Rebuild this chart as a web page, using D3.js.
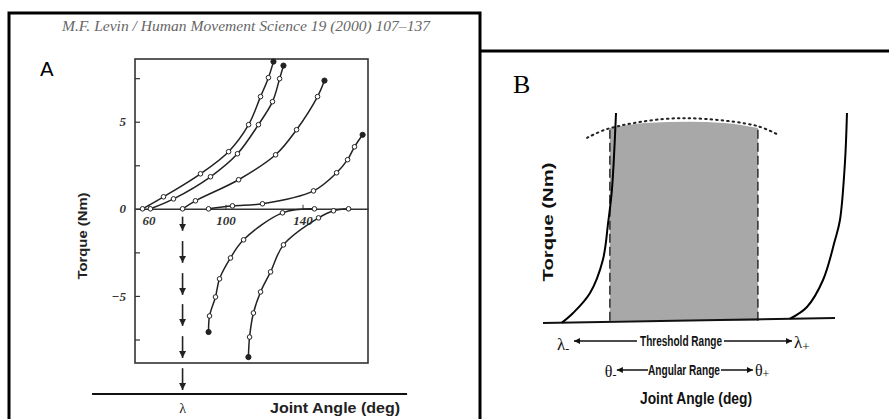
<!DOCTYPE html>
<html>
<head>
<meta charset="utf-8">
<script src="https://cdn.jsdelivr.net/npm/d3@7"></script>
<style>
  body { margin: 0; background: #fff; }
  svg { display: block; }
</style>
</head>
<body>
<svg width="889" height="419"></svg>
<script>
// ---- panel A : torque-angle curves (deg, Nm) ----
const flexor1 = [[56.9, 0], [67.8, 0.69], [87.0, 2.01], [101.6, 3.28], [112, 4.83], [118.2, 6.44], [122.3, 7.53], [124.9, 8.45]]
const flexor2 = [[61, 0], [73, 0.57], [92.2, 1.84], [106.2, 3.16], [117.1, 4.83], [124.4, 6.15], [128.1, 7.47], [130.1, 8.22]]
const flexor3 = [[77.7, 0], [84.4, 0.46], [106.8, 1.67], [126, 3.1], [136.9, 4.54], [147.8, 6.44], [151.4, 7.36]]
const flexor4 = [[91.2, 0], [103.6, 0.17], [119.2, 0.29], [145.7, 1.03], [157.7, 2.07], [163.4, 2.82], [167, 3.56], [171.2, 4.25]]
const extensor1 = [[91.2, -7.07], [91.7, -6.15], [94.8, -5.06], [96.9, -4.02], [102.6, -2.82], [109.4, -1.78], [129.6, -0.23], [146.2, 0]]
const extensor2 = [[111.9, -8.51], [112.5, -7.36], [114.5, -5.98], [118.2, -4.77], [123.4, -3.62], [130.1, -2.07], [148.3, -0.52], [156.1, -0.11], [163.9, 0]]

const yTicksA = [-7.5, -5, -2.5, 0, 2.5, 5, 7.5]
const yLabelsA = [5, 0, -5]
const xLabelsA = [60, 100, 140]
const lambdaA = 77.7
const lambdaArrowEnds = [-1.26, -3.1, -4.94, -6.72, -8.56, -10.4]

// ---- panel B : schematic (arbitrary units 0-100) ----
const baselineB = [[0, -0.5], [100, 1.9]]
const leftCurve = [[6.5, -0.3], [10.3, 4.3], [16.1, 13.9], [20.5, 29.7], [22.3, 47.4], [23.6, 63.2], [25, 100]]
const rightCurve = [[84.6, 1.6], [90.4, 7.2], [95.9, 20.1], [100, 39.2], [101.7, 48.8], [103.4, 76.1], [104.1, 100]]
const envelope = [[15.1, 88.1], [21.9, 92.3], [41.1, 97.1], [56.2, 97.1], [73.3, 93.8], [80.1, 89.9]]
const shadeTop = [[22.9, 92.8], [35, 95.2], [50, 95.8], [62, 95.2], [73.6, 92.8]]
const angularRange = [22.9, 73.6]
const thresholdRange = [6.5, 84.6]

const svg = d3.select('svg')
const ink = '#222'

const defs = svg.append('defs')
defs.append('marker')
    .attr('id', 'headA')
    .attr('viewBox', '0 0 10 10')
    .attr('refX', 10).attr('refY', 5)
    .attr('markerWidth', 7).attr('markerHeight', 8)
    .attr('markerUnits', 'userSpaceOnUse')
    .attr('orient', 'auto')
  .append('path').attr('d', 'M0,0L10,5L0,10z').attr('fill', ink)
defs.append('marker')
    .attr('id', 'headB')
    .attr('viewBox', '0 0 10 10')
    .attr('refX', 10).attr('refY', 5)
    .attr('markerWidth', 8).attr('markerHeight', 6)
    .attr('markerUnits', 'userSpaceOnUse')
    .attr('orient', 'auto-start-reverse')
  .append('path').attr('d', 'M0,0L10,5L0,10z').attr('fill', '#111')

// frames
svg.append('path').attr('d', 'M9,419V13H480V419').attr('fill', 'none').attr('stroke', '#000').attr('stroke-width', 3)
svg.append('path').attr('d', 'M480,51H889').attr('fill', 'none').attr('stroke', '#000').attr('stroke-width', 3)

// ================= panel A =================
const xA = d3.scaleLinear().domain([53, 174]).range([135, 368])
const yA = d3.scaleLinear().domain([-8.85, 8.6]).range([363, 59])

svg.append('text')
    .attr('x', 62).attr('y', 31)
    .attr('textLength', 368).attr('lengthAdjust', 'spacingAndGlyphs')
    .attr('font-family', 'Liberation Serif').attr('font-style', 'italic')
    .attr('font-size', 15).attr('fill', '#666')
    .text('M.F. Levin / Human Movement Science 19 (2000) 107\u2013137')

svg.append('text')
    .attr('x', 40).attr('y', 76)
    .attr('font-family', 'DejaVu Sans').attr('font-size', 20).attr('fill', '#000')
    .text('A')

svg.append('rect')
    .attr('x', xA(53)).attr('y', yA(8.6))
    .attr('width', xA(174) - xA(53)).attr('height', yA(-8.85) - yA(8.6))
    .attr('fill', 'none').attr('stroke', '#333').attr('stroke-width', 1.6)

// y ticks (inside) and labels
svg.append('g')
    .attr('transform', `translate(${xA(53)},0)`)
    .call(d3.axisRight(yA).tickValues(yTicksA).tickSize(5).tickFormat(''))
    .call(g => g.select('.domain').remove())
    .call(g => g.selectAll('line').attr('stroke', '#333').attr('stroke-width', 1.2))

svg.append('g')
    .attr('transform', `translate(${xA(53)},0)`)
    .call(d3.axisLeft(yA).tickValues(yLabelsA).tickSize(0).tickPadding(9).tickFormat(d => d < 0 ? '\u2212' + (-d) : d))
    .call(g => g.select('.domain').remove())
    .call(g => g.selectAll('text')
        .attr('font-family', 'Liberation Serif').attr('font-style', 'italic').attr('font-weight', 'bold')
        .attr('font-size', 13).attr('fill', '#333'))

// zero line as x axis
svg.append('g')
    .attr('transform', `translate(0,${yA(0)})`)
    .call(d3.axisBottom(xA).tickValues(xLabelsA).tickSizeInner(-4).tickSizeOuter(0).tickPadding(7))
    .call(g => g.select('.domain').attr('stroke', '#333').attr('stroke-width', 1.6))
    .call(g => g.selectAll('line').attr('stroke', '#333'))
    .call(g => g.selectAll('text')
        .attr('font-family', 'Liberation Serif').attr('font-style', 'italic').attr('font-weight', 'bold')
        .attr('font-size', 13).attr('fill', '#333'))

const lineA = d3.line().x(d => xA(d[0])).y(d => yA(d[1])).curve(d3.curveCatmullRom.alpha(0.5))

const curvesA = [
  { pts: flexor1, end: 'last' },
  { pts: flexor2, end: 'last' },
  { pts: flexor3, end: 'last' },
  { pts: flexor4, end: 'last' },
  { pts: extensor1, end: 'first' },
  { pts: extensor2, end: 'first' }
]

const cg = svg.append('g')
cg.selectAll('path.curve')
  .data(curvesA)
  .join('path')
    .attr('class', 'curve')
    .attr('d', d => lineA(d.pts))
    .attr('fill', 'none').attr('stroke', ink).attr('stroke-width', 1.5)

curvesA.forEach(c => {
  const n = c.pts.length
  cg.append('g').selectAll('circle')
    .data(c.pts.map((p, i) => ({ p, filled: (c.end === 'last' ? i === n - 1 : i === 0) })))
    .join('circle')
      .attr('cx', d => xA(d.p[0])).attr('cy', d => yA(d.p[1]))
      .attr('r', d => d.filled ? 2.6 : 2.3)
      .attr('fill', d => d.filled ? ink : '#fff')
      .attr('stroke', ink).attr('stroke-width', 1)
})

// lambda arrows
svg.append('g').selectAll('line')
  .data(lambdaArrowEnds)
  .join('line')
    .attr('x1', xA(lambdaA)).attr('x2', xA(lambdaA))
    .attr('y1', d => yA(Math.min(d + 1.25, -0.45)))
    .attr('y2', d => yA(d))
    .attr('stroke', ink).attr('stroke-width', 1.6)
    .attr('marker-end', 'url(#headA)')

// lower angle axis
svg.append('line')
    .attr('x1', xA(30.7)).attr('x2', xA(194.3))
    .attr('y1', yA(-10.63)).attr('y2', yA(-10.63))
    .attr('stroke', '#111').attr('stroke-width', 2)

svg.append('text')
    .attr('x', xA(lambdaA)).attr('y', 413)
    .attr('text-anchor', 'middle')
    .attr('font-family', 'Liberation Serif').attr('font-size', 14).attr('fill', '#222')
    .text('\u03bb')

svg.append('text')
    .attr('x', 335).attr('y', 413)
    .attr('text-anchor', 'middle')
    .attr('textLength', 130).attr('lengthAdjust', 'spacingAndGlyphs')
    .attr('font-family', 'Liberation Sans').attr('font-weight', 'bold')
    .attr('font-size', 14).attr('fill', '#222')
    .text('Joint Angle (deg)')

svg.append('text')
    .attr('transform', 'translate(87,236) rotate(-90)')
    .attr('text-anchor', 'middle')
    .attr('textLength', 87).attr('lengthAdjust', 'spacingAndGlyphs')
    .attr('font-family', 'Liberation Sans').attr('font-weight', 'bold')
    .attr('font-size', 13).attr('fill', '#222')
    .text('Torque (Nm)')

// ================= panel B =================
const xB = d3.scaleLinear().domain([0, 100]).range([543, 835])
const yB = d3.scaleLinear().domain([0, 100]).range([322, 113])

svg.append('text')
    .attr('x', 513).attr('y', 93)
    .attr('font-family', 'Liberation Serif').attr('font-size', 26).attr('fill', '#000')
    .text('B')

// shaded angular range
const areaB = d3.area()
    .x(d => xB(d[0])).y0(yB(0.6)).y1(d => yB(d[1]))
    .curve(d3.curveMonotoneX)
svg.append('path')
    .attr('d', areaB(shadeTop))
    .attr('fill', '#a8a8a8')

// dashed range bounds
svg.append('g').selectAll('line')
  .data(angularRange)
  .join('line')
    .attr('x1', d => xB(d)).attr('x2', d => xB(d))
    .attr('y1', yB(0.6)).attr('y2', yB(92.5))
    .attr('stroke', '#222').attr('stroke-width', 1.4)
    .attr('stroke-dasharray', '9,4')

const lineB = d3.line().x(d => xB(d[0])).y(d => yB(d[1])).curve(d3.curveCatmullRom.alpha(0.5))

svg.append('path')
    .attr('d', lineB(envelope))
    .attr('fill', 'none').attr('stroke', '#222').attr('stroke-width', 2)
    .attr('stroke-dasharray', '1.5,4').attr('stroke-linecap', 'round')

svg.append('path')
    .attr('d', d3.line().x(d => xB(d[0])).y(d => yB(d[1]))(baselineB))
    .attr('fill', 'none').attr('stroke', '#111').attr('stroke-width', 2)

svg.append('g').selectAll('path')
  .data([leftCurve, rightCurve])
  .join('path')
    .attr('d', d => lineB(d))
    .attr('fill', 'none').attr('stroke', '#000').attr('stroke-width', 2)

// range annotations
const lblFont = g => g.attr('font-family', 'Liberation Sans').attr('font-weight', 'bold').attr('fill', '#111')

const lamLo = xB(thresholdRange[0]), lamHi = xB(thresholdRange[1])
const thLo = xB(angularRange[0]), thHi = xB(angularRange[1])

svg.append('text').attr('x', lamLo - 5).attr('y', 350)
    .attr('font-family', 'Liberation Serif').attr('font-size', 17).attr('fill', '#111')
    .call(t => { t.append('tspan').text('\u03bb'); t.append('tspan').attr('font-size', 12).attr('dy', 3).text('-') })
svg.append('line').attr('x1', lamLo + 12).attr('x2', 637).attr('y1', 341).attr('y2', 341)
    .attr('stroke', '#111').attr('stroke-width', 1.5).attr('marker-start', 'url(#headB)')
svg.append('text').attr('x', 681).attr('y', 346).attr('text-anchor', 'middle')
    .attr('textLength', 82).attr('lengthAdjust', 'spacingAndGlyphs').attr('font-size', 14)
    .call(lblFont).text('Threshold Range')
svg.append('line').attr('x1', 724).attr('x2', lamHi + 2).attr('y1', 341).attr('y2', 341)
    .attr('stroke', '#111').attr('stroke-width', 1.5).attr('marker-end', 'url(#headB)')
svg.append('text').attr('x', lamHi + 4).attr('y', 348)
    .attr('font-family', 'Liberation Serif').attr('font-size', 17).attr('fill', '#111')
    .call(t => { t.append('tspan').text('\u03bb'); t.append('tspan').attr('font-size', 13).attr('dy', 3).text('+') })

svg.append('text').attr('x', thLo - 5).attr('y', 377)
    .attr('font-family', 'Liberation Serif').attr('font-size', 16).attr('fill', '#111')
    .call(t => { t.append('tspan').text('\u03b8'); t.append('tspan').attr('font-size', 12).attr('dy', 2).text('-') })
svg.append('line').attr('x1', thLo + 7).attr('x2', 648).attr('y1', 370).attr('y2', 370)
    .attr('stroke', '#111').attr('stroke-width', 1.5).attr('marker-start', 'url(#headB)')
svg.append('text').attr('x', 684).attr('y', 375).attr('text-anchor', 'middle')
    .attr('textLength', 72).attr('lengthAdjust', 'spacingAndGlyphs').attr('font-size', 14)
    .call(lblFont).text('Angular Range')
svg.append('line').attr('x1', 721).attr('x2', thHi - 5).attr('y1', 370).attr('y2', 370)
    .attr('stroke', '#111').attr('stroke-width', 1.5).attr('marker-end', 'url(#headB)')
svg.append('text').attr('x', thHi - 3).attr('y', 376)
    .attr('font-family', 'Liberation Serif').attr('font-size', 16).attr('fill', '#111')
    .call(t => { t.append('tspan').text('\u03b8'); t.append('tspan').attr('font-size', 12).attr('dy', 2).text('+') })

svg.append('text').attr('x', 696).attr('y', 404).attr('text-anchor', 'middle')
    .attr('textLength', 112).attr('lengthAdjust', 'spacingAndGlyphs').attr('font-size', 16)
    .call(lblFont).text('Joint Angle (deg)')

svg.append('text')
    .attr('transform', 'translate(553,222) rotate(-90)')
    .attr('text-anchor', 'middle')
    .attr('textLength', 119).attr('lengthAdjust', 'spacingAndGlyphs')
    .attr('font-size', 15)
    .call(lblFont).text('Torque (Nm)')
</script>
</body>
</html>
